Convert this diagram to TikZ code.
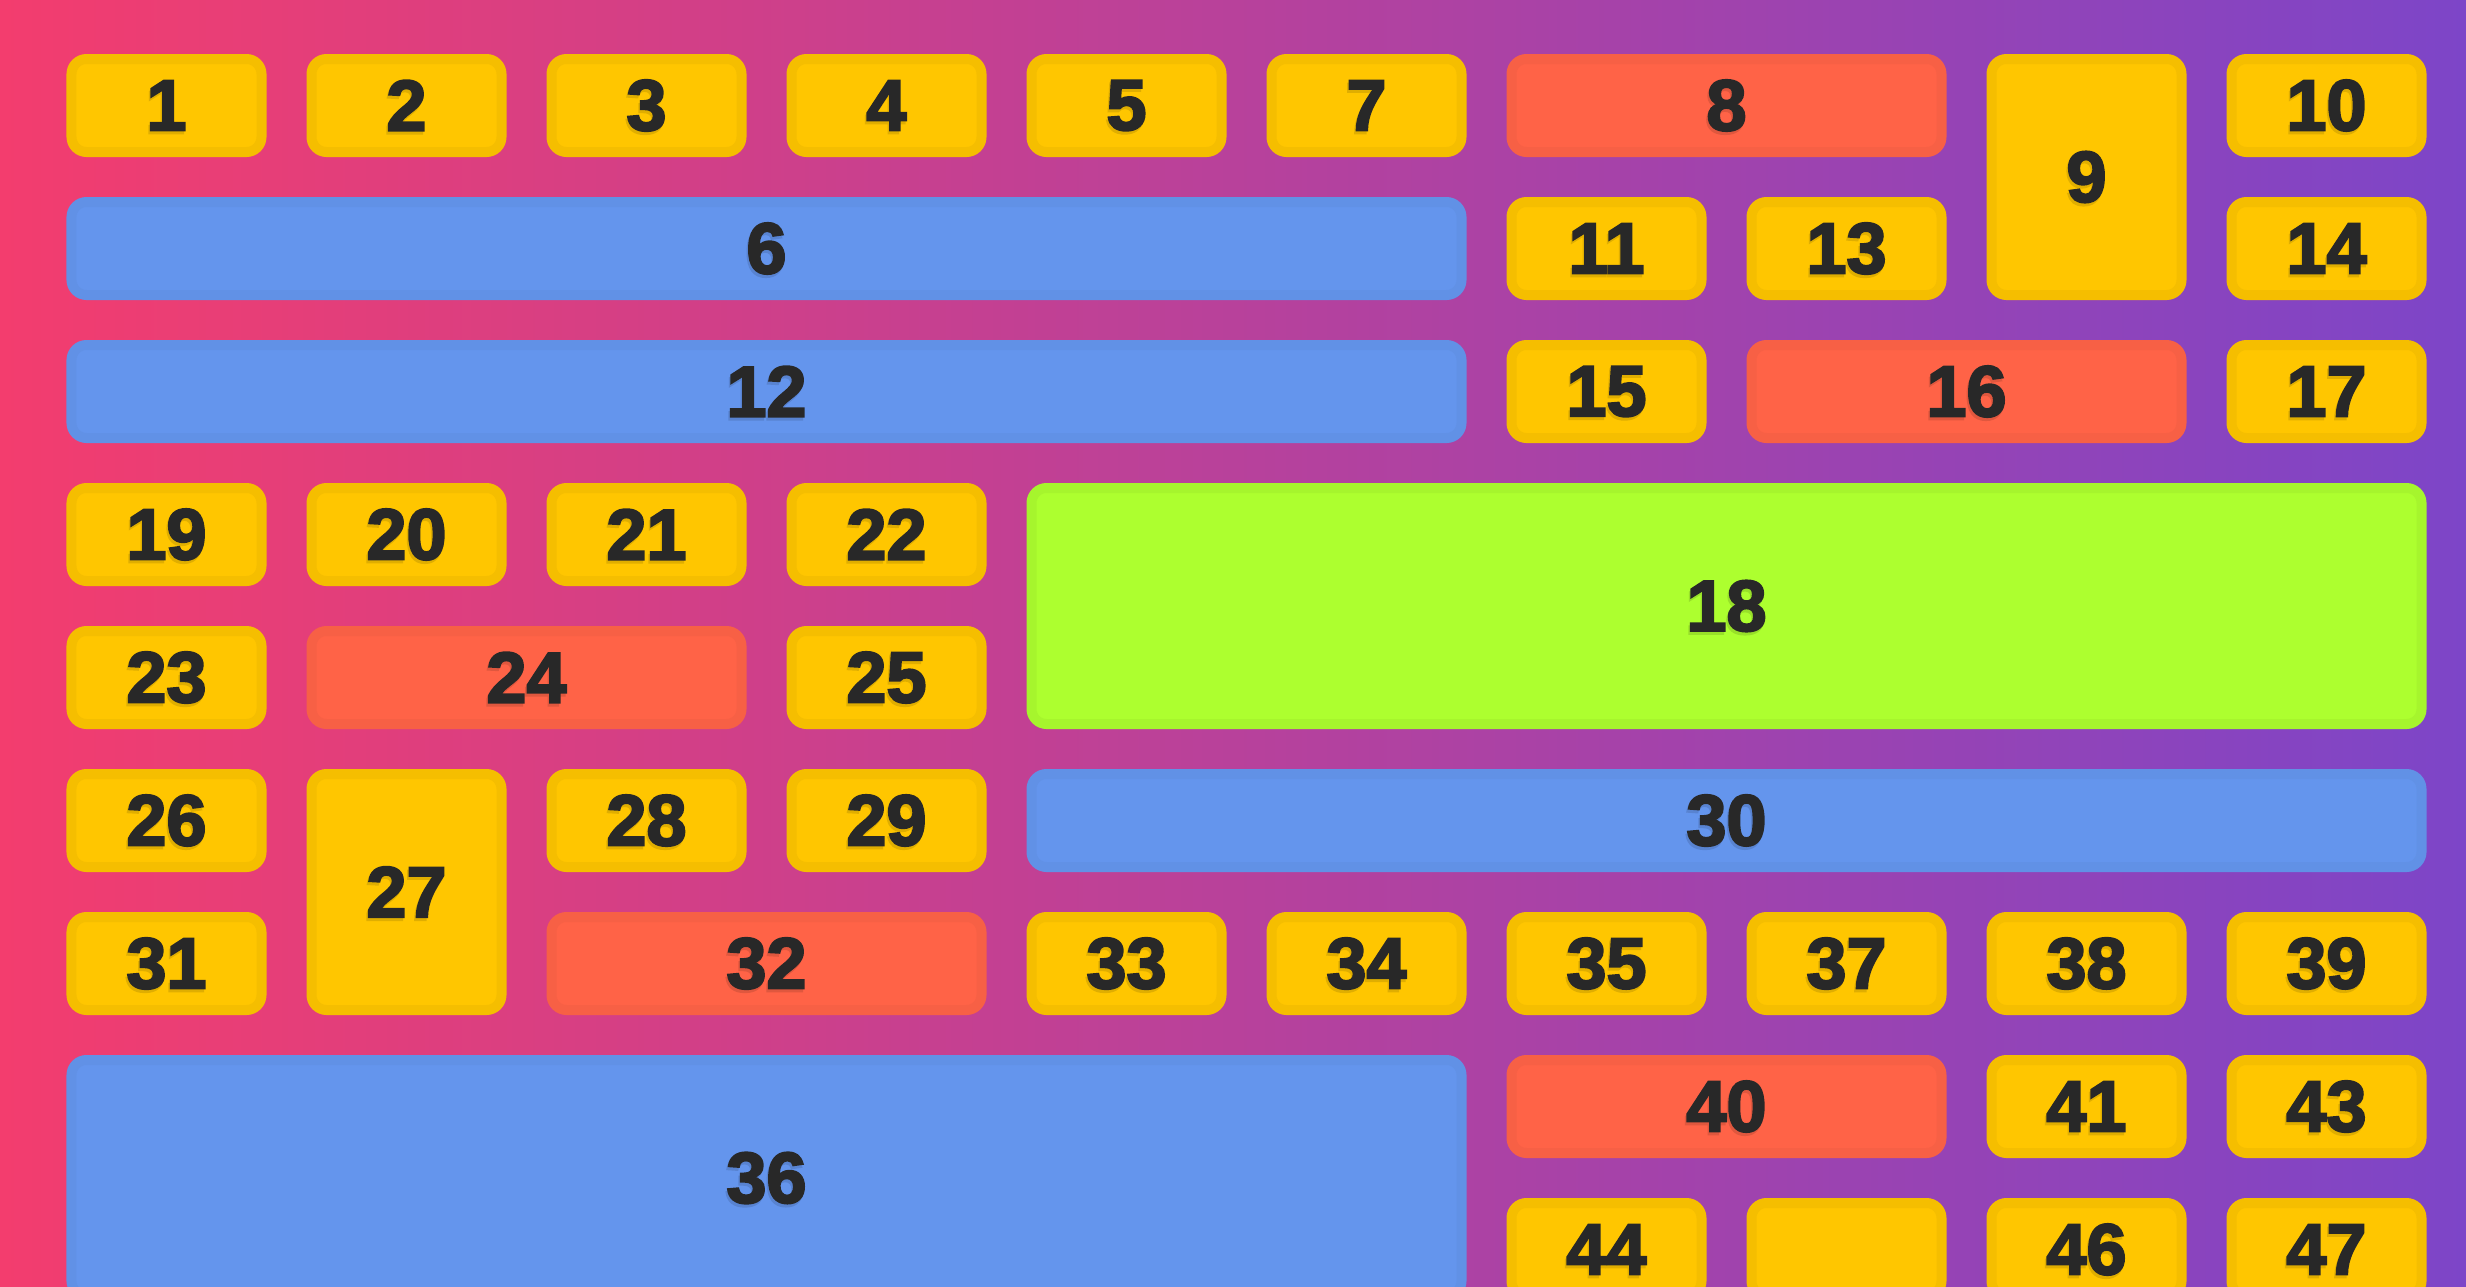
\documentclass[tikz,border=0pt]{standalone}
\usepackage{fontspec}
\newfontfamily\numfont{Liberation Sans}[BoldFeatures={FakeBold=3}]
\definecolor{bgleft}{HTML}{F33D6E}
\definecolor{bgmid}{HTML}{BE3E98}
\definecolor{bgright}{HTML}{7D45C8}
\definecolor{boxyellow}{HTML}{FFC600}
\definecolor{boxblue}{HTML}{6495ED}
\definecolor{boxred}{HTML}{FF6347}
\definecolor{boxgreen}{HTML}{ADFF2F}
\definecolor{numtext}{HTML}{282828}
\newcommand\shnum[1]{\makebox[0pt][l]{\kern-1.5pt\smash{\raisebox{-3pt}{\color{\shcol}#1}}}#1}
\tikzset{
  box/.style={draw, line width=10pt, rounded corners=15pt, inner sep=0pt,
    minimum width=190pt, minimum height=93pt, text=numtext,
    font=\numfont\bfseries\fontsize{72}{80}\selectfont},
  ybox/.style={box, fill=boxyellow, draw=boxyellow!96!black,
    execute at begin node={\def\shcol{boxyellow!88!black}}},
  bbox/.style={box, fill=boxblue, draw=boxblue!97!black,
    execute at begin node={\def\shcol{boxblue!88!black}}},
  rbox/.style={box, fill=boxred, draw=boxred!97!black,
    execute at begin node={\def\shcol{boxred!88!black}}},
  gbox/.style={box, fill=boxgreen, draw=boxgreen!96!black,
    execute at begin node={\def\shcol{boxgreen!88!black}}},
  boxcols/.style={minimum width=#1*240pt-50pt},
  boxrows/.style={minimum height=#1*143pt-50pt}
}
\begin{document}
\begin{tikzpicture}[x=240pt, y=-143pt]
    \clip (-166.5pt, 105.5pt) rectangle (2299.5pt, -1180.5pt);
    \shade[left color=bgleft, middle color=bgmid, right color=bgright]
      (-166.5pt, 105.5pt) rectangle (2299.5pt, -1180.5pt);
    % row 0
    \node[ybox] at (0, 0) (n1) {\shnum{1}};
    \node[ybox] at (1, 0) (n2) {\shnum{2}};
    \node[ybox] at (2, 0) (n3) {\shnum{3}};
    \node[ybox] at (3, 0) (n4) {\shnum{4}};
    \node[ybox] at (4, 0) (n5) {\shnum{5}};
    \node[ybox] at (5, 0) (n7) {\shnum{7}};
    \node[rbox, boxcols=2] at (6.5, 0) (n8) {\shnum{8}};
    \node[ybox, boxrows=2] at (8, 0.5) (n9) {\shnum{9}};
    \node[ybox] at (9, 0) (n10) {\shnum{10}};
    % row 1
    \node[bbox, boxcols=6] at (2.5, 1) (n6) {\shnum{6}};
    \node[ybox] at (6, 1) (n11) {\shnum{11}};
    \node[ybox] at (7, 1) (n13) {\shnum{13}};
    \node[ybox] at (9, 1) (n14) {\shnum{14}};
    % row 2
    \node[bbox, boxcols=6] at (2.5, 2) (n12) {\shnum{12}};
    \node[ybox] at (6, 2) (n15) {\shnum{15}};
    \node[rbox, boxcols=2] at (7.5, 2) (n16) {\shnum{16}};
    \node[ybox] at (9, 2) (n17) {\shnum{17}};
    % rows 3 and 4
    \node[ybox] at (0, 3) (n19) {\shnum{19}};
    \node[ybox] at (1, 3) (n20) {\shnum{20}};
    \node[ybox] at (2, 3) (n21) {\shnum{21}};
    \node[ybox] at (3, 3) (n22) {\shnum{22}};
    \node[gbox, boxcols=6, boxrows=2] at (6.5, 3.5) (n18) {\shnum{18}};
    \node[ybox] at (0, 4) (n23) {\shnum{23}};
    \node[rbox, boxcols=2] at (1.5, 4) (n24) {\shnum{24}};
    \node[ybox] at (3, 4) (n25) {\shnum{25}};
    % rows 5 and 6
    \node[ybox] at (0, 5) (n26) {\shnum{26}};
    \node[ybox, boxrows=2] at (1, 5.5) (n27) {\shnum{27}};
    \node[ybox] at (2, 5) (n28) {\shnum{28}};
    \node[ybox] at (3, 5) (n29) {\shnum{29}};
    \node[bbox, boxcols=6] at (6.5, 5) (n30) {\shnum{30}};
    \node[ybox] at (0, 6) (n31) {\shnum{31}};
    \node[rbox, boxcols=2] at (2.5, 6) (n32) {\shnum{32}};
    \node[ybox] at (4, 6) (n33) {\shnum{33}};
    \node[ybox] at (5, 6) (n34) {\shnum{34}};
    \node[ybox] at (6, 6) (n35) {\shnum{35}};
    \node[ybox] at (7, 6) (n37) {\shnum{37}};
    \node[ybox] at (8, 6) (n38) {\shnum{38}};
    \node[ybox] at (9, 6) (n39) {\shnum{39}};
    % rows 7 and 8
    \node[bbox, boxcols=6, boxrows=2] at (2.5, 7.5) (n36) {\shnum{36}};
    \node[rbox, boxcols=2] at (6.5, 7) (n40) {\shnum{40}};
    \node[ybox] at (8, 7) (n41) {\shnum{41}};
    \node[ybox] at (9, 7) (n43) {\shnum{43}};
    \node[ybox] at (6, 8) (n44) {\shnum{44}};
    \node[ybox] at (7, 8) (blank) {};
    \node[ybox] at (8, 8) (n46) {\shnum{46}};
    \node[ybox] at (9, 8) (n47) {\shnum{47}};
  \end{tikzpicture}
\end{document}
